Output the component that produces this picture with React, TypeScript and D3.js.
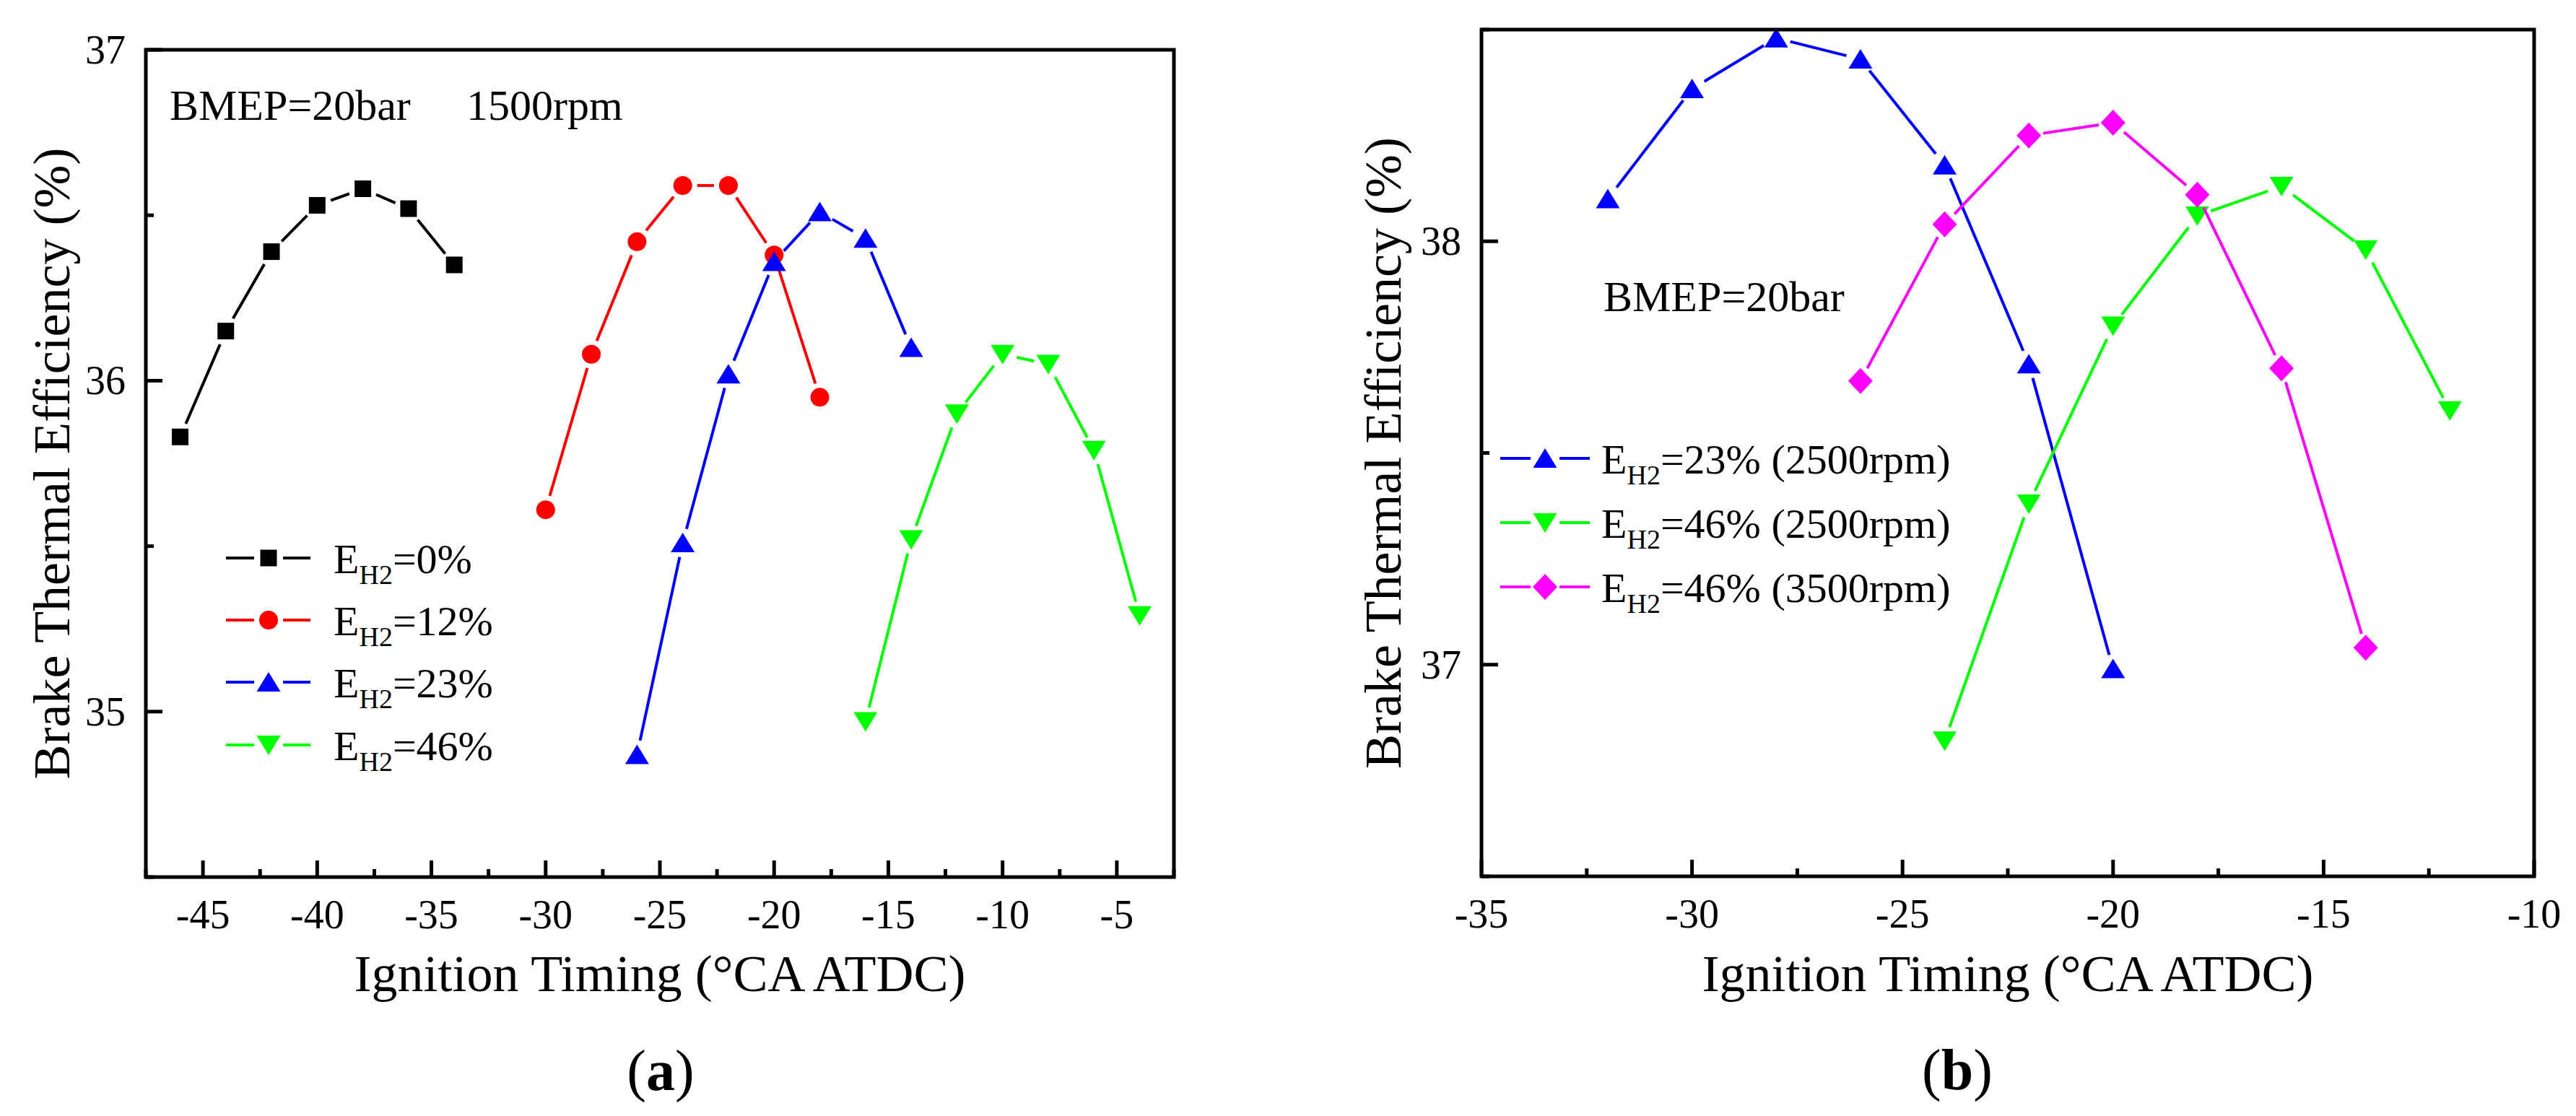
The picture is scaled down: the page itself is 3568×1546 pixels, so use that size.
import * as d3 from 'd3';

const FONT = "'Liberation Serif', Tinos, 'Times New Roman', 'DejaVu Serif', serif";

// (a) BMEP=20bar, 1500rpm
const timingA0 = [-46, -44, -42, -40, -38, -36, -34];
const bteA0 = [35.83, 36.15, 36.39, 36.53, 36.58, 36.52, 36.35];
const timingA12 = [-30, -28, -26, -24, -22, -20, -18];
const bteA12 = [35.61, 36.08, 36.42, 36.59, 36.59, 36.38, 35.95];
const timingA23 = [-26, -24, -22, -20, -18, -16, -14];
const bteA23 = [34.87, 35.51, 36.02, 36.36, 36.51, 36.43, 36.10];
const timingA46 = [-16, -14, -12, -10, -8, -6, -4];
const bteA46 = [34.97, 35.52, 35.90, 36.08, 36.05, 35.79, 35.29];

// (b) BMEP=20bar
const timingB23 = [-32, -30, -28, -26, -24, -22, -20];
const bteB23 = [38.10, 38.36, 38.48, 38.43, 38.18, 37.71, 36.99];
const timingB46 = [-24, -22, -20, -18, -16, -14, -12];
const bteB46 = [36.82, 37.38, 37.80, 38.06, 38.13, 37.98, 37.60];
const timingB46h = [-26, -24, -22, -20, -18, -16, -14];
const bteB46h = [37.67, 38.04, 38.25, 38.28, 38.11, 37.70, 37.04];

const xTicksA = [-45, -40, -35, -30, -25, -20, -15, -10, -5];
const yTicksA = [35, 36, 37];
const xTicksB = [-35, -30, -25, -20, -15, -10];
const yTicksB = [37, 38];

type Shape = 'square' | 'circle' | 'up' | 'down' | 'diamond';
interface Series { x: number[]; y: number[]; color: string; shape: Shape; rest: string }

const seriesA: Series[] = [
  { x: timingA0, y: bteA0, color: '#000000', shape: 'square', rest: '=0%' },
  { x: timingA12, y: bteA12, color: '#ff0000', shape: 'circle', rest: '=12%' },
  { x: timingA23, y: bteA23, color: '#0000ff', shape: 'up', rest: '=23%' },
  { x: timingA46, y: bteA46, color: '#00ff00', shape: 'down', rest: '=46%' },
];
const seriesB: Series[] = [
  { x: timingB23, y: bteB23, color: '#0000ff', shape: 'up', rest: '=23% (2500rpm)' },
  { x: timingB46, y: bteB46, color: '#00ff00', shape: 'down', rest: '=46% (2500rpm)' },
  { x: timingB46h, y: bteB46h, color: '#ff00ff', shape: 'diamond', rest: '=46% (3500rpm)' },
];

function markerPath(shape: Shape, cx: number, cy: number) {
  switch (shape) {
    case 'square':
      return `M${cx - 11.5},${cy - 11.5}h23v23h-23Z`;
    case 'circle': {
      const p = d3.path();
      p.arc(cx, cy, 13, 0, Math.PI * 2);
      return p.toString();
    }
    case 'up':
      return `M${cx},${cy - 14}L${cx + 16.5},${cy + 13}L${cx - 16.5},${cy + 13}Z`;
    case 'down':
      return `M${cx},${cy + 14}L${cx + 16.5},${cy - 13}L${cx - 16.5},${cy - 13}Z`;
    case 'diamond':
      return `M${cx},${cy - 18}L${cx + 17},${cy}L${cx},${cy + 18}L${cx - 17},${cy}Z`;
  }
}

const GAP = 20;

interface PanelProps {
  box: { left: number; right: number; top: number; bottom: number };
  xDomain: [number, number];
  yDomain: [number, number];
  xTicks: number[];
  yTicks: number[];
  series: Series[];
  legend: { rows: number[]; l0: number; l1: number; mx: number; tx: number };
  yTitleX: number;
}

function Panel({ box, xDomain, yDomain, xTicks, yTicks, series, legend, yTitleX }: PanelProps) {
  const x = d3.scaleLinear().domain(xDomain).range([box.left, box.right]);
  const y = d3.scaleLinear().domain(yDomain).range([box.bottom, box.top]);
  const xMinor = d3.range(xDomain[0], xDomain[1] + 1e-6, 2.5).filter(v => !xTicks.includes(v));
  const yMinor = d3.range(yDomain[0], yDomain[1] + 1e-6, 0.5).filter(v => !yTicks.includes(v));

  // line pieces stop short of the markers, as the plotting program draws them
  const segs = (s: Series) => {
    const pts = s.x.map((v, i) => [x(v), y(s.y[i])]);
    return d3.pairs(pts).map(([a, b]) => {
      const dx = b[0] - a[0], dy = b[1] - a[1];
      const d = Math.hypot(dx, dy);
      const ux = dx / d, uy = dy / d;
      return { x1: a[0] + ux * GAP, y1: a[1] + uy * GAP, x2: b[0] - ux * GAP, y2: b[1] - uy * GAP, ok: d > 2 * GAP };
    });
  };

  const tickFont = 56;
  return (
    <g style={{ fontFamily: FONT }}>
      {series.map((s, si) => (
        <g key={si}>
          {segs(s).filter(g => g.ok).map((g, i) => (
            <line key={i} x1={g.x1} y1={g.y1} x2={g.x2} y2={g.y2} stroke={s.color} strokeWidth={4} />
          ))}
          {s.x.map((v, i) => (
            <path key={i} d={markerPath(s.shape, x(v), y(s.y[i]))} fill={s.color} />
          ))}
        </g>
      ))}

      {xTicks.map(t => (
        <g key={t}>
          <line x1={x(t)} x2={x(t)} y1={box.bottom} y2={box.bottom - 23} stroke="#000" strokeWidth={5} />
          <text x={x(t)} y={box.bottom + 71} textAnchor="middle" fontSize={tickFont}>{t}</text>
        </g>
      ))}
      {xMinor.map(t => (
        <line key={t} x1={x(t)} x2={x(t)} y1={box.bottom} y2={box.bottom - 11} stroke="#000" strokeWidth={5} />
      ))}
      {yTicks.map(t => (
        <g key={t}>
          <line x1={box.left} x2={box.left + 23} y1={y(t)} y2={y(t)} stroke="#000" strokeWidth={5} />
          <text x={box.left - 28} y={y(t) + 19} textAnchor="end" fontSize={tickFont}>{t}</text>
        </g>
      ))}
      {yMinor.map(t => (
        <line key={t} x1={box.left} x2={box.left + 11} y1={y(t)} y2={y(t)} stroke="#000" strokeWidth={5} />
      ))}

      <rect x={box.left} y={box.top} width={box.right - box.left} height={box.bottom - box.top}
        fill="none" stroke="#000" strokeWidth={5} />

      <text x={(box.left + box.right) / 2} y={1373} textAnchor="middle" fontSize={72}>
        Ignition Timing (°CA ATDC)
      </text>
      <text transform={`translate(${yTitleX},${(box.top + box.bottom) / 2}) rotate(-90)`}
        textAnchor="middle" fontSize={72}>
        Brake Thermal Efficiency (%)
      </text>

      {series.map((s, i) => {
        const ry = legend.rows[i];
        return (
          <g key={i}>
            <line x1={legend.l0} x2={legend.mx - GAP} y1={ry} y2={ry} stroke={s.color} strokeWidth={4} />
            <line x1={legend.mx + GAP} x2={legend.l1} y1={ry} y2={ry} stroke={s.color} strokeWidth={4} />
            <path d={markerPath(s.shape, legend.mx, ry)} fill={s.color} />
            <text x={legend.tx} y={ry + 21} fontSize={58}>
              E<tspan fontSize={38} dy={15}>H2</tspan><tspan dy={-15}>{s.rest}</tspan>
            </text>
          </g>
        );
      })}
    </g>
  );
}

export default function App() {
  return (
    <svg width={3568} height={1546} viewBox="0 0 3568 1546"
      style={{ position: 'absolute', left: 0, top: 0, display: 'block', background: '#fff' }}>
      <rect width={3568} height={1546} fill="#fff" />
      <Panel
        box={{ left: 202, right: 1626, top: 69, bottom: 1215 }}
        xDomain={[-47.5, -2.5]} yDomain={[34.5, 37]}
        xTicks={xTicksA} yTicks={yTicksA} series={seriesA}
        legend={{ rows: [773, 859, 945, 1032], l0: 313, l1: 430, mx: 372, tx: 462 }}
        yTitleX={96}
      />
      <Panel
        box={{ left: 2052, right: 3510, top: 41, bottom: 1214 }}
        xDomain={[-35, -10]} yDomain={[36.5, 38.5]}
        xTicks={xTicksB} yTicks={yTicksB} series={seriesB}
        legend={{ rows: [635, 724, 813], l0: 2078, l1: 2202, mx: 2140, tx: 2218 }}
        yTitleX={1940}
      />
      <g style={{ fontFamily: FONT }} fontSize={60}>
        <text x={235} y={166}>BMEP=20bar</text>
        <text x={646} y={166}>1500rpm</text>
        <text x={2221} y={431}>BMEP=20bar</text>
      </g>
      <g style={{ fontFamily: FONT }} fontSize={80} textAnchor="middle">
        <text x={915} y={1510}>(<tspan fontWeight="bold">a</tspan>)</text>
        <text x={2711} y={1509}>(<tspan fontWeight="bold">b</tspan>)</text>
      </g>
    </svg>
  );
}
